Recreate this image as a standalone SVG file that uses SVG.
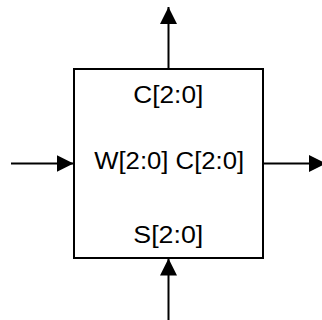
<svg xmlns="http://www.w3.org/2000/svg" width="322" height="320" viewBox="0 0 322 320">
<style>
.t{font-family:"Liberation Sans",Arial,sans-serif;font-size:23px;fill:#000;text-anchor:middle}
.c{stroke:#000;stroke-width:2;fill:none}
</style>
<defs>
<marker id="ah" viewBox="0 0 10 10" refX="10" refY="5" markerWidth="17" markerHeight="17" orient="auto" markerUnits="userSpaceOnUse">
<path d="M0,0 L10,5 L0,10 Z" fill="#000"/>
</marker>
</defs>
<rect width="322" height="320" fill="#fff"/>
<g id="connectors">
<line class="c" x1="168.5" y1="69" x2="168.5" y2="7" marker-end="url(#ah)"/>
<line class="c" x1="11" y1="163.5" x2="73.5" y2="163.5" marker-end="url(#ah)"/>
<line class="c" x1="263" y1="163.5" x2="326" y2="163.5" marker-end="url(#ah)"/>
<line class="c" x1="168.5" y1="320" x2="168.5" y2="258.5" marker-end="url(#ah)"/>
</g>
<g id="block">
<rect x="74" y="69" width="189" height="189" fill="none" stroke="#000" stroke-width="2"/>
<text class="t" x="168.3" y="102.7" textLength="70" lengthAdjust="spacingAndGlyphs">C[2:0]</text>
<text class="t" x="169.2" y="169.3" textLength="150" lengthAdjust="spacingAndGlyphs">W[2:0] C[2:0]</text>
<text class="t" x="168.3" y="242.7" textLength="70" lengthAdjust="spacingAndGlyphs">S[2:0]</text>
</g>
</svg>
